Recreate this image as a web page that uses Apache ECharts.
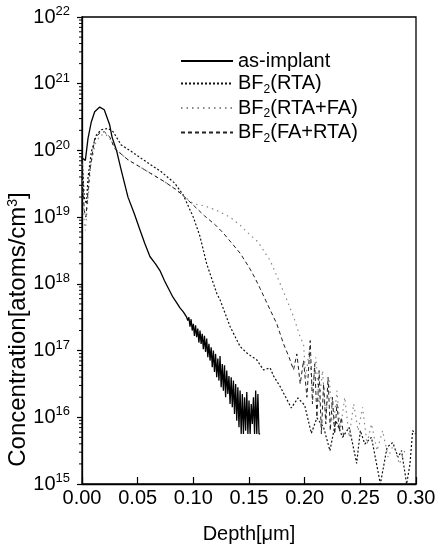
<!DOCTYPE html>
<html><head><meta charset="utf-8">
<script src="https://cdn.jsdelivr.net/npm/echarts@6/dist/echarts.min.js"></script>
<style>html,body{margin:0;padding:0;background:#fff}#c{width:438px;height:552px}</style>
</head><body><div id="c"></div>
<script>
// ---- data (depth in µm, concentration as log10 exponent) ----
const seriesNames = ['as-implant', 'BF2(RTA)', 'BF2(RTA+FA)', 'BF2(FA+RTA)'];
const xTickValues = [0.00, 0.05, 0.10, 0.15, 0.20, 0.25, 0.30];
const yDecades = [15, 16, 17, 18, 19, 20, 21, 22];

const asImplantDepth = [0.000,0.003,0.0054,0.0084,0.0114,0.0159,0.020,0.0249,0.027,0.031,0.035,0.0413,0.047,0.052,0.0565,0.061,0.066,0.070,0.074,0.078,0.0817,0.085,0.088,0.091,0.094,
  0.095,0.096,0.097,0.098,0.099,0.100,0.101,0.102,0.103,0.104,0.105,0.106,0.107,0.108,0.109,0.110,0.111,0.112,0.113,0.114,0.115,0.116,0.117,0.118,0.119,0.120,
  0.121,0.122,0.123,0.124,0.125,0.126,0.127,0.128,0.129,0.130,0.131,0.132,0.133,0.134,0.135,0.136,0.137,0.138,0.139,0.140,
  0.141,0.142,0.143,0.144,0.145,0.146,0.147,0.148,0.149,0.150,0.151,0.152,0.153,0.154,0.155,0.156,0.157,0.158,0.159,0.160];
const asImplantExp = [19.89,19.85,20.18,20.43,20.58,20.65,20.61,20.38,20.2,20.0,19.72,19.3,19.05,18.81,18.6,18.41,18.3,18.2,18.05,17.92,17.8,17.72,17.64,17.58,17.5,
  17.45,17.50,17.36,17.47,17.30,17.40,17.22,17.38,17.20,17.33,17.12,17.30,17.10,17.25,17.02,17.22,16.98,17.18,16.90,17.10,16.85,17.05,16.75,17.00,16.68,16.95,
  16.60,16.88,16.55,16.92,16.45,16.80,16.40,16.78,16.30,16.70,16.35,16.62,16.20,16.60,16.15,16.55,16.05,16.50,15.95,16.45,
  15.85,16.40,15.75,16.35,15.75,16.30,15.80,16.38,15.75,16.25,15.75,16.20,15.90,16.30,15.75,16.40,15.75,16.35,15.75,15.75];

const rtaDepth = [0.000,0.002,0.004,0.0054,0.0084,0.0129,0.0173,0.0234,0.028,0.0353,0.043,0.0533,0.0712,0.0832,0.091,0.0937,0.100,0.106,0.112,0.121,0.124,0.133,0.142,0.149,0.157,0.163,0.169,0.172,0.178,0.188,0.194,0.200,0.206,0.211,0.217,0.2227,0.228,0.234,0.240,0.2467,0.250,0.254,0.260,0.268,0.274,0.279,0.284,0.287,0.2916,0.2946,0.297,0.2995];
const rtaExp = [19.9,19.3,19.2,19.59,19.98,20.23,20.31,20.33,20.28,20.08,20.0,19.88,19.68,19.51,19.33,19.23,19.0,18.71,18.3,17.86,17.76,17.36,17.06,16.95,16.86,16.71,16.74,16.62,16.46,16.14,16.29,16.18,15.76,15.99,15.85,15.5,15.95,15.7,15.85,15.31,15.8,15.6,15.7,15.0,15.55,15.62,15.4,15.5,15.0,15.3,15.8,15.75];

const rtaFaDepth = [0.000,0.002,0.003,0.005,0.008,0.012,0.016,0.021,0.026,0.030,0.0413,0.0563,0.0742,0.0847,0.091,0.100,0.110,0.121,0.133,0.142,0.148,0.158,0.169,0.176,0.184,0.190,0.196,0.199,0.201,0.204,0.207,0.210,0.213,0.216,0.219,0.222,0.226,0.229,0.232,0.236,0.240,0.244,0.248,0.252,0.256,0.260,0.265,0.270,0.275,0.280,0.285,0.290];
const rtaFaExp = [19.8,18.9,18.8,19.2,19.8,20.1,20.22,20.25,20.15,20.02,19.86,19.71,19.53,19.41,19.32,19.2,19.17,19.1,19.0,18.88,18.78,18.63,18.35,18.08,17.76,17.51,17.2,17.1,16.6,17.0,16.4,16.9,16.2,16.7,16.0,16.55,15.9,16.4,15.8,16.3,15.7,16.2,15.8,16.15,15.6,15.9,15.5,15.8,15.4,15.6,15.3,15.5];

const faRtaDepth = [0.000,0.002,0.0035,0.0069,0.0114,0.0159,0.020,0.025,0.0293,0.0413,0.0563,0.0742,0.0847,0.091,0.100,0.110,0.120,0.127,0.135,0.142,0.150,0.155,0.160,0.169,0.175,0.181,0.186,0.190,0.193,0.196,0.199,0.202,0.205,0.207,0.209,0.211,0.213,0.215,0.217,0.219,0.221,0.223,0.225,0.227,0.229,0.231,0.233,0.235];
const faRtaExp = [19.85,19.1,19.0,19.68,20.18,20.26,20.28,20.2,20.03,19.86,19.71,19.53,19.41,19.32,19.18,19.02,18.88,18.76,18.6,18.46,18.25,18.1,17.93,17.61,17.4,17.1,16.9,16.71,16.95,16.5,16.85,16.3,17.15,16.2,16.8,16.0,16.7,15.75,16.5,15.9,16.6,15.8,16.3,15.75,16.2,15.8,16.0,15.7];

function pairs(d, e) { return d.map((x, i) => [x, Math.pow(10, e[i])]); }

const minorTickValues = [];
yDecades.slice(0, -1).forEach(p => { for (let k = 2; k <= 9; k++) minorTickValues.push([0, k * Math.pow(10, p)]); });

const FONT = '"Liberation Sans", Arial, Helvetica, sans-serif';
const legendLabels = {
  'as-implant': '{n|as-implant}',
  'BF2(RTA)': '{n|BF}{s|2}{n|(RTA)}',
  'BF2(RTA+FA)': '{n|BF}{s|2}{n|(RTA+FA)}',
  'BF2(FA+RTA)': '{n|BF}{s|2}{n|(FA+RTA)}'
};

const chart = echarts.init(document.getElementById('c'), null, { renderer: 'canvas' });
chart.setOption({
  animation: false,
  backgroundColor: '#fff',
  textStyle: { fontFamily: FONT, color: '#000' },
  grid: { left: 82, right: 22, top: 17, bottom: 68, containLabel: false, outerBoundsMode: 'none',
    show: true, borderColor: '#000', borderWidth: 1.3, backgroundColor: 'transparent' },
  legend: {
    data: seriesNames,
    orient: 'vertical',
    left: 175, top: 46,
    itemWidth: 52, itemHeight: 14, itemGap: 2.5,
    itemStyle: { opacity: 0, borderWidth: 0 },
    formatter: n => legendLabels[n],
    textStyle: {
      color: '#000', fontFamily: FONT,
      rich: {
        n: { fontSize: 20, lineHeight: 24, color: '#000', fontFamily: FONT },
        s: { fontSize: 12, lineHeight: 6, verticalAlign: 'bottom', color: '#000', fontFamily: FONT }
      }
    }
  },
  xAxis: {
    type: 'value', min: 0, max: 0.3, interval: 0.05,
    name: 'Depth[μm]', nameLocation: 'middle', nameGap: 40, nameMoveOverlap: false,
    nameTextStyle: { fontSize: 20, color: '#000', fontFamily: FONT },
    axisLine: { show: true, lineStyle: { color: '#000', width: 1.3 } },
    axisTick: { show: true, inside: true, length: 7, lineStyle: { color: '#000', width: 1.2 } },
    axisLabel: { fontSize: 20, color: '#000', margin: 4, fontFamily: FONT, formatter: v => v.toFixed(2) },
    splitLine: { show: false }
  },
  yAxis: {
    type: 'log', logBase: 10, min: 1e15, max: 1e22, splitNumber: 7,
    name: 'Concentration[atoms/cm{p|3}]', nameLocation: 'middle', nameGap: 52, nameRotate: 90, nameMoveOverlap: false,
    nameTextStyle: {
      fontSize: 24, color: '#000', fontFamily: FONT, padding: [0, 158, 0, 0],
      rich: { p: { fontSize: 14, lineHeight: 8, verticalAlign: 'top', fontFamily: FONT, color: '#000' } }
    },
    axisLine: { show: true, lineStyle: { color: '#000', width: 1.3 } },
    axisTick: { show: true, inside: false, length: 5, lineStyle: { color: '#000', width: 1.2 } },
    axisLabel: {
      margin: 12, color: '#000', fontFamily: FONT,
      formatter: v => '{m|10}{p|' + Math.round(Math.log10(v)) + '}',
      rich: {
        m: { fontSize: 20, lineHeight: 24, fontFamily: FONT, color: '#000' },
        p: { fontSize: 13, lineHeight: 8, verticalAlign: 'top', fontFamily: FONT, color: '#000' }
      }
    },
    splitLine: { show: false }
  },
  series: [
    { name: 'as-implant', type: 'line', data: pairs(asImplantDepth, asImplantExp), showSymbol: false, symbol: 'none',
      lineStyle: { color: '#000', width: 1.3, type: 'solid' }, itemStyle: { color: '#000' } },
    { name: 'BF2(RTA)', type: 'line', data: pairs(rtaDepth, rtaExp), showSymbol: false, symbol: 'none',
      lineStyle: { color: '#111', width: 1.2, type: [2, 2] }, itemStyle: { color: '#111' } },
    { name: 'BF2(RTA+FA)', type: 'line', data: pairs(rtaFaDepth, rtaFaExp), showSymbol: false, symbol: 'none',
      lineStyle: { color: '#888', width: 1.2, type: [1.5, 4] }, itemStyle: { color: '#888' } },
    { name: 'BF2(FA+RTA)', type: 'line', data: pairs(faRtaDepth, faRtaExp), showSymbol: false, symbol: 'none',
      lineStyle: { color: '#222', width: 1, type: [4, 3] }, itemStyle: { color: '#222' } },
    { name: 'minorTicks', type: 'custom', silent: true, clip: false, data: minorTickValues,
      renderItem: (params, api) => {
        const p = api.coord([api.value(0), api.value(1)]);
        return { type: 'line', shape: { x1: p[0] - 3, y1: p[1], x2: p[0], y2: p[1] }, style: { stroke: '#000', lineWidth: 1 } };
      } }
  ]
});
</script></body></html>
